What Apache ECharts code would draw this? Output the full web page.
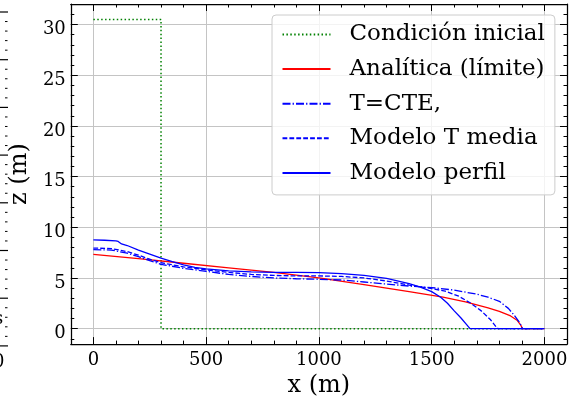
<!DOCTYPE html>
<html><head><meta charset="utf-8">
<script src="https://cdn.jsdelivr.net/npm/echarts@6/dist/echarts.min.js"></script>
<style>html,body{margin:0;padding:0;background:#fff}#c{width:576px;height:403px}</style>
</head><body><div id="c"></div>
<script>
// ---- data ----
const xInit = [0, 300, 300, 2000];
const zInit = [30.5, 30.5, 0, 0];

const xAnal = [0, 200, 400, 600, 800, 1000, 1200, 1400, 1550, 1650, 1750, 1800, 1850, 1880, 1895, 1902, 2000];
const zAnal = [7.33, 6.9, 6.45, 6.0, 5.55, 5.0, 4.35, 3.65, 3.1, 2.65, 2.05, 1.7, 1.25, 0.8, 0.35, 0, 0];

const xCte = [0, 80, 150, 200, 250, 300, 400, 500, 600, 700, 800, 900, 1000, 1100, 1200, 1300, 1400, 1500, 1600, 1700, 1750, 1800, 1840, 1865, 1890, 1903, 2000];
const zCte = [7.8, 7.75, 7.45, 7.1, 6.7, 6.35, 5.95, 5.65, 5.35, 5.15, 5.0, 4.92, 4.87, 4.8, 4.6, 4.4, 4.2, 4.05, 3.8, 3.4, 3.1, 2.7, 2.0, 1.35, 0.6, 0, 0];

const xMedia = [0, 80, 150, 200, 250, 300, 400, 500, 600, 700, 800, 900, 1000, 1100, 1200, 1300, 1400, 1500, 1560, 1620, 1670, 1720, 1760, 1785, 1795, 2000];
const zMedia = [7.95, 7.9, 7.6, 7.25, 6.85, 6.5, 6.1, 5.8, 5.55, 5.35, 5.25, 5.2, 5.2, 5.15, 5.0, 4.7, 4.3, 3.95, 3.7, 3.2, 2.55, 1.75, 0.9, 0.2, 0, 0];

const xPerfil = [0, 50, 100, 110, 125, 150, 200, 250, 300, 350, 400, 450, 500, 600, 700, 800, 900, 1000, 1100, 1200, 1300, 1400, 1450, 1500, 1540, 1570, 1600, 1630, 1655, 1670, 2000];
const zPerfil = [8.75, 8.72, 8.65, 8.6, 8.35, 8.2, 7.75, 7.35, 6.95, 6.6, 6.3, 6.05, 5.9, 5.7, 5.6, 5.55, 5.55, 5.52, 5.42, 5.25, 4.95, 4.45, 4.1, 3.65, 3.1, 2.5, 1.75, 1.05, 0.4, 0, 0];

const seriesNames = ['Condición inicial', 'Analítica (límite)', 'T=CTE,', 'Modelo T media', 'Modelo perfil'];
const xTitle = 'x (m)';
const zTitle = 'z (m)';

// ---- chart ----
const FONT = 'DejaVu Serif';
const pairs = (xs, zs) => xs.map((x, i) => [x, zs[i]]);
const LW = 1.3;
function lineSeries(name, xs, zs, color, type, width) {
  return {
    name, type: 'line', data: pairs(xs, zs), symbol: 'none', showSymbol: false,
    xAxisIndex: 0, yAxisIndex: 0,
    lineStyle: { color, width: width || LW, type }, itemStyle: { color }, z: 3
  };
}

const axisCommon = {
  type: 'value',
  axisLine: { show: true, onZero: false, lineStyle: { color: '#000', width: 1.25 } },
  axisTick: { show: true, inside: true, length: 7, lineStyle: { color: '#000', width: 1 } },
  minorTick: { show: true, splitNumber: 5, length: 3.5, lineStyle: { color: '#000', width: 1 } },
  splitLine: { show: false },
  minorSplitLine: { show: false }
};

const xMain = Object.assign({}, axisCommon, {
  position: 'bottom', min: -100, max: 2100,
  axisLabel: { show: true, fontFamily: FONT, fontSize: 18, color: '#000', margin: 7, showMinLabel: false, showMaxLabel: false, formatter: v => String(v) },
  splitLine: { show: true, lineStyle: { color: '#c4c4c4', width: 1 } },
  name: xTitle, nameLocation: 'middle', nameGap: 24,
  nameTextStyle: { fontFamily: FONT, fontSize: 24, color: '#000', verticalAlign: 'top' }
});
const xTop = Object.assign({}, axisCommon, {
  position: 'top', min: -100, max: 2100, axisLabel: { show: false }
});
const yMain = Object.assign({}, axisCommon, {
  position: 'left', min: -1.525, max: 32.025,
  axisLabel: {
    show: true, color: '#000', margin: 5, showMinLabel: false, showMaxLabel: false,
    formatter: v => '{t|' + v + '}',
    rich: { t: { fontFamily: FONT, fontSize: 18, color: '#000', padding: [10, 0, 0, 0] } }
  },
  splitLine: { show: true, lineStyle: { color: '#c4c4c4', width: 1 } },
  name: zTitle, nameLocation: 'middle', nameGap: 37, nameRotate: 90,
  nameTextStyle: { fontFamily: FONT, fontSize: 24, color: '#000' }
});
const yRight = Object.assign({}, axisCommon, {
  position: 'right', min: -1.525, max: 32.025, axisLabel: { show: false }
});

// decoration: fragment of a neighbouring panel cut at the left edge
const deco = [];
for (let k = 0; k < 8; k++) {
  const y0 = 12 + 47.7 * k;
  deco.push({ type: 'line', shape: { x1: 0, y1: y0, x2: 8, y2: y0 }, style: { stroke: '#000', lineWidth: 1.2 } });
  if (k < 7) for (let j = 1; j < 5; j++) {
    const y1 = y0 + 9.54 * j;
    deco.push({ type: 'line', shape: { x1: 5, y1: y1, x2: 7.5, y2: y1 }, style: { stroke: '#000', lineWidth: 1 } });
  }
}
deco.push({ type: 'text', x: -7, y: 353, style: { text: '0', font: '18px "DejaVu Serif"', fill: '#000' } });
deco.push({ type: 'text', x: -6, y: 310, style: { text: 's', font: '18px "DejaVu Serif"', fill: '#000' } });

const chart = echarts.init(document.getElementById('c'), null, { renderer: 'canvas' });
chart.setOption({
  animation: false,
  backgroundColor: '#fff',
  grid: { left: 70, top: 4, width: 497, height: 343, containLabel: false },
  xAxis: [xMain, xTop],
  yAxis: [yMain, yRight],
  legend: {
    orient: 'vertical', left: 272, top: 15,
    padding: [8, 10, 10.5, 9.5],
    itemWidth: 48, itemHeight: 14, itemGap: 11.6,
    backgroundColor: 'rgba(255,255,255,0.8)', borderColor: '#cccccc', borderWidth: 1, borderRadius: 4,
    textStyle: { fontFamily: FONT, fontSize: 23, color: '#000', padding: [0, 0, 0, 14] },
    itemStyle: { opacity: 0 },
    data: seriesNames
  },
  graphic: deco,
  series: [
    lineSeries(seriesNames[0], xInit, zInit, '#008000', [1.5, 2.4], 1.5),
    lineSeries(seriesNames[1], xAnal, zAnal, '#ff0000', 'solid'),
    lineSeries(seriesNames[2], xCte, zCte, '#0000ff', [8, 2.1, 1.3, 2.1]),
    lineSeries(seriesNames[3], xMedia, zMedia, '#0000ff', [4.8, 2.1]),
    lineSeries(seriesNames[4], xPerfil, zPerfil, '#0000ff', 'solid')
  ]
});
</script>
</body></html>
